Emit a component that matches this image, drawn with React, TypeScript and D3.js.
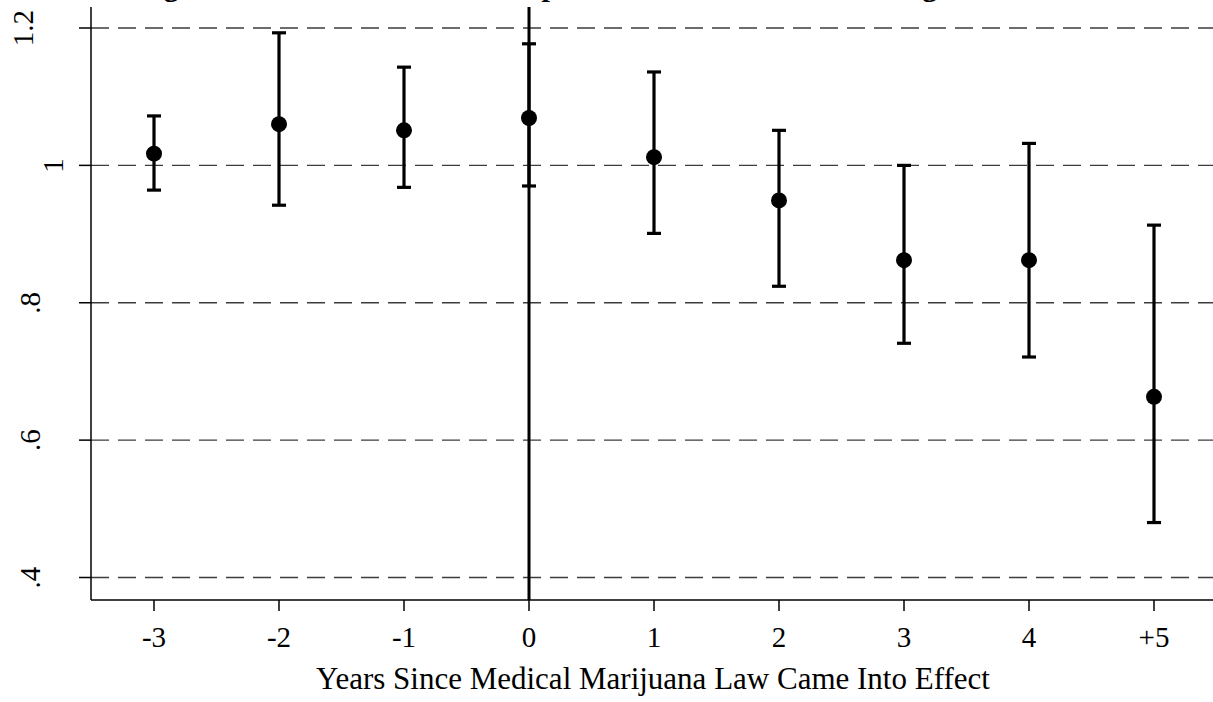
import React from "react";
import * as d3 from "d3";

// event-study estimates
const periodLabels = ["-3", "-2", "-1", "0", "1", "2", "3", "4", "+5"];
const periods = [-3, -2, -1, 0, 1, 2, 3, 4, 5];
const estimates = [1.017, 1.06, 1.051, 1.069, 1.012, 0.949, 0.862, 0.862, 0.663];
const upperCI = [1.072, 1.193, 1.143, 1.177, 1.136, 1.051, 1.0, 1.032, 0.913];
const lowerCI = [0.964, 0.942, 0.968, 0.97, 0.901, 0.824, 0.741, 0.721, 0.48];

const yTicks = [0.4, 0.6, 0.8, 1, 1.2];
const yTickLabels = [".4", ".6", ".8", "1", "1.2"];

const title = "Figure 2. Estimated Relationship of MMLs and Suicide among Males";
const xTitle = "Years Since Medical Marijuana Law Came Into Effect";

const W = 1213;
const H = 702;
const font = "'Liberation Serif', 'Times New Roman', serif";

const App = () => {
  const left = 91;
  const top = 7;
  const bottom = 600;

  const x = d3.scaleLinear().domain([-3.5, 5.5]).range([91.5, 1216.5]);
  const y = d3.scaleLinear().domain([0.4, 1.2]).range([577.5, 28]);

  // rotated y labels sit at different depths in the original
  const labelX = (lab: string) => (lab.length === 1 ? 63 : lab.length === 3 ? 33 : 40);

  return (
    <svg
      width={W}
      height={H}
      style={{ position: "absolute", left: 0, top: 0, background: "#fff" }}
      fontFamily={font}
    >
      <rect width={W} height={H} fill="#fff" />

      {/* title, cut off at the top of the picture */}
      <text x={137} y={-4.5} fontSize={30} fontWeight="bold" fill="#000">
        {title}
      </text>

      {/* grid lines */}
      {yTicks.map((t) => (
        <line
          key={"g" + t}
          x1={left}
          x2={W}
          y1={y(t)}
          y2={y(t)}
          stroke="#3c3c3c"
          strokeWidth={1.3}
          strokeDasharray="18,9"
        />
      ))}

      {/* axes */}
      <line x1={left} x2={left} y1={top} y2={bottom} stroke="#000" strokeWidth={1.5} />
      <line x1={left} x2={W} y1={bottom} y2={bottom} stroke="#000" strokeWidth={1.5} />

      {yTicks.map((t, i) => (
        <g key={"yt" + t}>
          <line x1={79} x2={left} y1={y(t)} y2={y(t)} stroke="#000" strokeWidth={1.5} />
          <text
            transform={`translate(${labelX(yTickLabels[i])},${y(t)}) rotate(-90)`}
            textAnchor="middle"
            fontSize={29}
            fill="#000"
          >
            {yTickLabels[i]}
          </text>
        </g>
      ))}

      {periods.map((p, i) => (
        <g key={"xt" + p}>
          <line x1={x(p)} x2={x(p)} y1={bottom} y2={611} stroke="#000" strokeWidth={1.5} />
          <text x={x(p)} y={647} textAnchor="middle" fontSize={29} fill="#000">
            {periodLabels[i]}
          </text>
        </g>
      ))}

      <text x={653} y={689} textAnchor="middle" fontSize={31} fill="#000">
        {xTitle}
      </text>

      {/* law takes effect */}
      <line x1={x(0)} x2={x(0)} y1={top} y2={bottom} stroke="#000" strokeWidth={3} />

      {/* confidence intervals */}
      {periods.map((p, i) => (
        <g key={"ci" + p} stroke="#000" strokeWidth={3.2}>
          <line x1={x(p)} x2={x(p)} y1={y(upperCI[i])} y2={y(lowerCI[i])} />
          <line x1={x(p) - 7} x2={x(p) + 7} y1={y(upperCI[i])} y2={y(upperCI[i])} />
          <line x1={x(p) - 7} x2={x(p) + 7} y1={y(lowerCI[i])} y2={y(lowerCI[i])} />
        </g>
      ))}

      {periods.map((p, i) => (
        <circle key={"pt" + p} cx={x(p)} cy={y(estimates[i])} r={8} fill="#000" />
      ))}
    </svg>
  );
};

export default App;
